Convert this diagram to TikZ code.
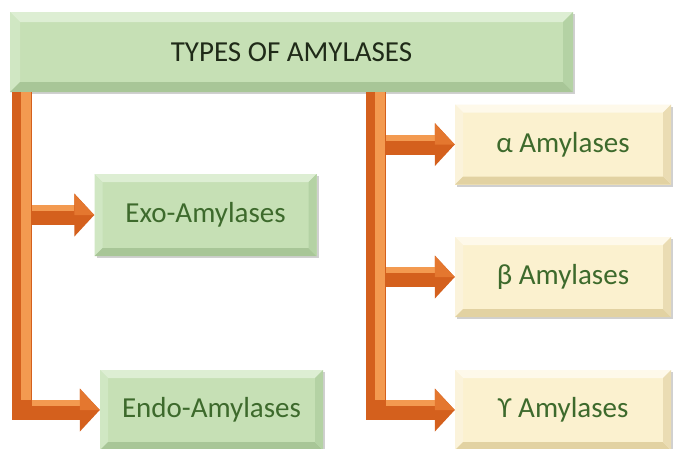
\documentclass[tikz,border=0pt]{standalone}
\usepackage{fontspec}
\setmainfont{Carlito}
\usetikzlibrary{arrows.meta,shadows,calc}

\definecolor{gInner}{HTML}{C6E0B5}
\definecolor{gTop}{HTML}{DDEED3}
\definecolor{gLeft}{HTML}{D0E7C3}
\definecolor{gBottom}{HTML}{A8C697}
\definecolor{gRight}{HTML}{B4D2A4}
\definecolor{cInner}{HTML}{FBF1CF}
\definecolor{cTop}{HTML}{FEF9EA}
\definecolor{cLeft}{HTML}{FBF3DB}
\definecolor{cBottom}{HTML}{E2D2A2}
\definecolor{cRight}{HTML}{EADCB3}
\definecolor{txtGreen}{HTML}{3D6A2C}
\definecolor{txtDark}{HTML}{1F2A18}
\definecolor{oMain}{HTML}{D4601D}
\definecolor{oLight}{HTML}{F39A50}
\definecolor{oHead}{HTML}{E4772F}

\tikzset{
  bevel/.style n args={5}{path picture={
    \def\bw{#5}
    \fill[#1] (path picture bounding box.north west) -- (path picture bounding box.north east)
      -- ([xshift=-\bw,yshift=-\bw]path picture bounding box.north east)
      -- ([xshift=\bw,yshift=-\bw]path picture bounding box.north west) -- cycle;
    \fill[#2] (path picture bounding box.north west) -- (path picture bounding box.south west)
      -- ([xshift=\bw,yshift=\bw]path picture bounding box.south west)
      -- ([xshift=\bw,yshift=-\bw]path picture bounding box.north west) -- cycle;
    \fill[#3] (path picture bounding box.south west) -- (path picture bounding box.south east)
      -- ([xshift=-\bw,yshift=\bw]path picture bounding box.south east)
      -- ([xshift=\bw,yshift=\bw]path picture bounding box.south west) -- cycle;
    \fill[#4] (path picture bounding box.north east) -- (path picture bounding box.south east)
      -- ([xshift=-\bw,yshift=\bw]path picture bounding box.south east)
      -- ([xshift=-\bw,yshift=-\bw]path picture bounding box.north east) -- cycle;
  }},
  boxbase/.style={inner sep=0pt, font=\fontsize{29}{32}\selectfont,
    drop shadow={shadow xshift=2pt, shadow yshift=-2pt, opacity=0.3, fill=black!60}},
  greenbox/.style={boxbase, fill=gInner, text=txtGreen,
    bevel={gTop}{gLeft}{gBottom}{gRight}{8pt}},
  creambox/.style={boxbase, fill=cInner, text=txtGreen,
    bevel={cTop}{cLeft}{cBottom}{cRight}{8pt}},
  titlebox/.style={boxbase, fill=gInner, text=txtDark,
    bevel={gTop}{gLeft}{gBottom}{gRight}{10pt}},
  conn/.style={draw=oMain, line width=20pt, line join=miter,
    -{Triangle[length=20pt,width=42pt,fill=oMain]}},
}

% lighter top bevel on a horizontal arm and its arrowhead
\newcommand\armshade[2]{%
  \fill[oLight] ($(#1 |- #2.west)+(10,-10)$) rectangle ($(#2.west)+(-20,-4)$);
  \fill[oHead] (#2.west) -- ($(#2.west)+(-20,-21)$) -- ($(#2.west)+(-20,0)$) -- cycle;
}

\begin{document}
\begin{tikzpicture}[x=1pt,y=-1pt]
\useasboundingbox[fill=white] (0,0) rectangle (674,448);

% boxes
\node[titlebox, minimum width=563pt, minimum height=80pt] (title) at (291.5,52) {TYPES OF AMYLASES};
\node[greenbox, minimum width=222pt, minimum height=82pt] (exo) at (205.5,215) {Exo-Amylases};
\node[greenbox, minimum width=223pt, minimum height=80pt] (endo) at (211.5,410) {Endo-Amylases};
\node[creambox, minimum width=216pt, minimum height=80pt] (alpha) at (563,144.5) {α Amylases};
\node[creambox, minimum width=216pt, minimum height=80pt] (beta) at (563,277) {β Amylases};
\node[creambox, minimum width=216pt, minimum height=80pt] (upsilon) at (563,410) {ϒ Amylases};

% trunks leaving the title box
\coordinate (ltrunk) at ([xshift=12pt]title.south west);
\coordinate (rtrunk) at ([xshift=366pt]title.south west);

% left branch
\draw[conn] (ltrunk) |- (endo.west);
\draw[conn] (ltrunk |- exo.west) -- (exo.west);
\fill[oLight] ($(ltrunk)+(-1,0)$) rectangle ($(ltrunk |- endo.west)+(9,-10)$);
\armshade{ltrunk}{exo}
\armshade{ltrunk}{endo}

% right branch
\draw[conn] (rtrunk) |- (upsilon.west);
\draw[conn] (rtrunk |- alpha.west) -- (alpha.west);
\draw[conn] (rtrunk |- beta.west) -- (beta.west);
\fill[oLight] ($(rtrunk)+(-1,0)$) rectangle ($(rtrunk |- upsilon.west)+(9,-10)$);
\armshade{rtrunk}{alpha}
\armshade{rtrunk}{beta}
\armshade{rtrunk}{upsilon}
\end{tikzpicture}
\end{document}
